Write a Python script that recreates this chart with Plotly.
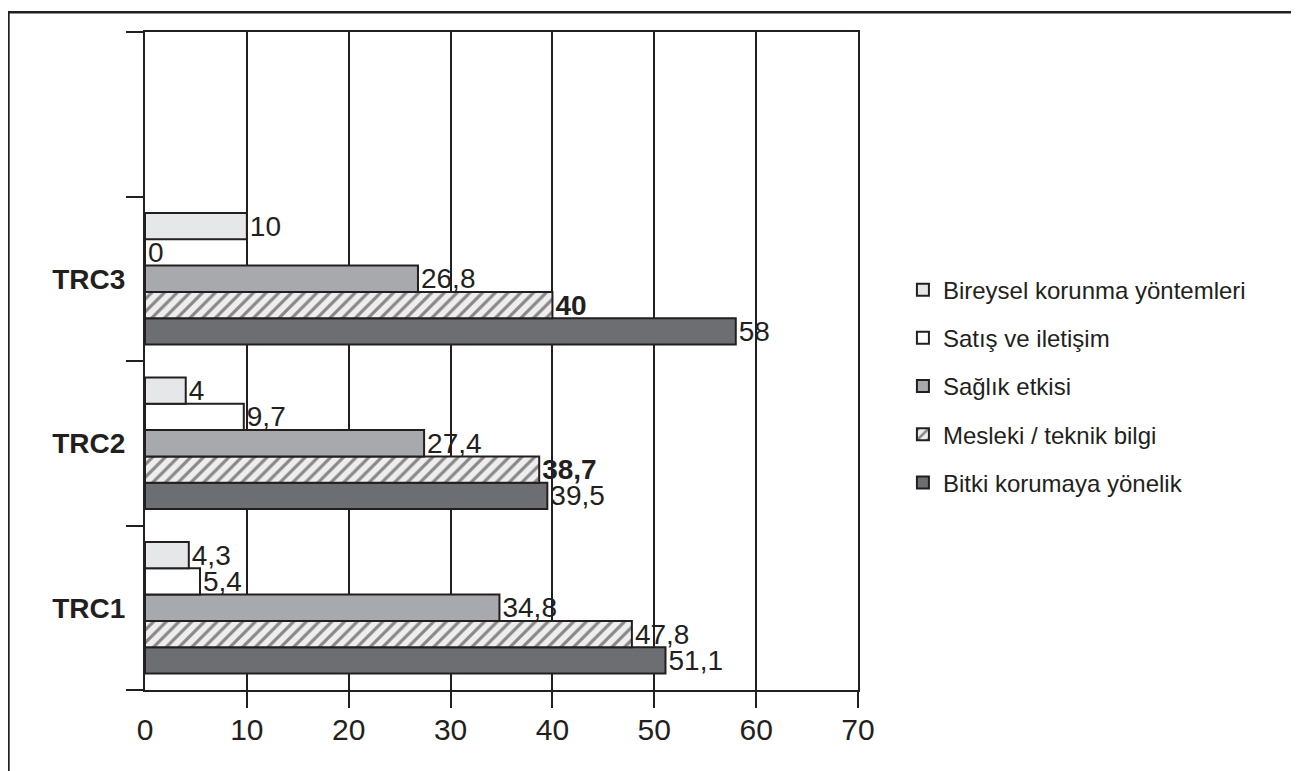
import plotly.graph_objects as go

# ---- data ----
categories = ["TRC1", "TRC2", "TRC3"]
empty_slot = " "
bireysel = [4.3, 4, 10]
satis = [5.4, 9.7, 0]
saglik = [34.8, 27.4, 26.8]
mesleki = [47.8, 38.7, 40]
bitki = [51.1, 39.5, 58]
mesleki_bold = [False, True, True]
x_ticks = [0, 10, 20, 30, 40, 50, 60, 70]

INK = "#231f20"
FONT = "Liberation Sans, Arial, Helvetica, sans-serif"


def fmt(v, bold=False):
    s = f"{v:g}".replace(".", ",")
    return f"<b>{s}</b>" if bold else s


ycats = categories + [empty_slot]

series = [
    # (name, values, fill colour, pattern, bold flags, legend rank) - bottom-to-top in group
    ("Bitki korumaya yönelik", bitki, "#6d6e71", None, None, 5),
    ("Mesleki / teknik bilgi", mesleki, "#eeeeef",
     dict(shape="/", fgcolor=INK, bgcolor="#eeeeef", size=9, solidity=0.35), mesleki_bold, 4),
    ("Sağlık etkisi", saglik, "#a7a9ac", None, None, 3),
    ("Satış ve iletişim", satis, "#ffffff", None, None, 2),
    ("Bireysel korunma yöntemleri", bireysel, "#e6e7e8", None, None, 1),
]

fig = go.Figure()
for i, (name, vals, col, pat, bold, rank) in enumerate(series):
    texts = [fmt(v, bold[j] if bold else False) for j, v in enumerate(vals)] + [""]
    marker = dict(color=col, line=dict(color=INK, width=2))
    if pat:
        marker["pattern"] = pat
    fig.add_trace(go.Bar(
        name=name,
        y=ycats,
        x=list(vals) + [None],
        orientation="h",
        marker=marker,
        text=texts,
        textposition="outside",
        textfont=dict(size=28, color=INK, family=FONT),
        constraintext="none",
        cliponaxis=False,
        legendgroup=f"g{i}",
        legendrank=rank,
        hoverinfo="x+name",
    ))

fig.update_layout(
    width=1291,
    height=763,
    barmode="group",
    bargap=0.2,
    bargroupgap=0,
    plot_bgcolor="white",
    paper_bgcolor="white",
    font=dict(family=FONT, color=INK),
    margin=dict(l=137, r=441, t=24, b=81),
    showlegend=True,
    legend=dict(
        x=1.063, y=0.642, xanchor="left", yanchor="top",
        traceorder="grouped",
        tracegroupgap=14,
        font=dict(size=24, color=INK, family=FONT),
        bgcolor="rgba(0,0,0,0)",
    ),
    xaxis=dict(
        range=[0, 70],
        tickvals=x_ticks,
        ticks="",
        ticklabelstandoff=12,
        showgrid=True,
        gridcolor=INK,
        gridwidth=2,
        showline=True,
        linecolor=INK,
        linewidth=2,
        mirror=True,
        zeroline=False,
        tickfont=dict(size=30, color=INK, family=FONT),
        minor=dict(tickvals=x_ticks[1:], ticks="outside", ticklen=16, tickcolor=INK, tickwidth=2, showgrid=False),
        fixedrange=True,
    ),
    yaxis=dict(
        type="category",
        categoryorder="array",
        categoryarray=ycats,
        range=[-0.5, 3.5],
        tickson="boundaries",
        ticks="outside",
        ticklen=17,
        tickwidth=2,
        tickcolor=INK,
        ticklabelstandoff=12,
        showgrid=False,
        showline=True,
        linecolor=INK,
        linewidth=2,
        mirror=True,
        tickfont=dict(size=28, color=INK, family=FONT, weight="bold"),
        fixedrange=True,
    ),
    shapes=[
        dict(type="rect", xref="paper", yref="paper",
             x0=-0.1915, x1=1.6143, y0=-0.2, y1=1.03,
             line=dict(color=INK, width=2.5), fillcolor="rgba(0,0,0,0)", layer="above"),
    ],
)

fig.write_html("out.html")
